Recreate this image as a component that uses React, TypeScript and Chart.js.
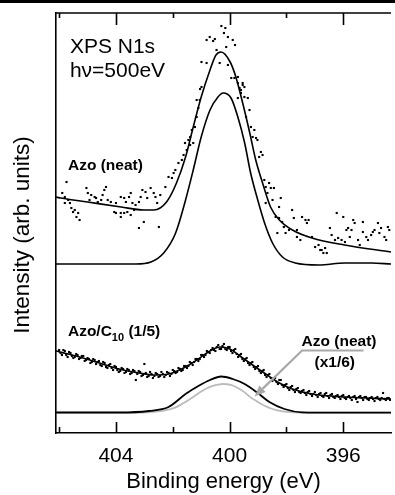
import React, { useEffect, useRef } from 'react';
import { Chart, registerables } from 'chart.js';

Chart.register(...registerables);

// ---- axes ----
const X_MIN = 394.32;
const X_MAX = 406.11;
const Y_MIN = 0;
const Y_MAX = 420;
const MAJOR_TICKS = [404, 400, 396];
const MINOR_TICKS = [406, 402, 398];

// ---- Azo (neat): measured points [binding energy, intensity] ----
const NEAT_DOTS: [number, number][] = [
  [405.89, 240], [405.8, 236], [405.74, 251], [405.68, 233], [405.8, 230], [405.62, 230], [405.57, 225],
  [405.51, 221], [405.45, 223], [405.39, 216], [405.33, 220], [405.28, 213], [405.04, 245], [404.99, 240],
  [404.93, 233], [404.87, 238], [404.75, 236], [404.7, 235], [404.64, 231], [404.52, 233], [404.47, 238],
  [404.41, 243], [404.35, 246], [404.29, 233], [404.18, 231], [404.06, 221], [404.0, 230], [404.0, 220],
  [403.83, 236], [403.83, 220], [403.83, 216], [403.71, 235], [403.71, 220], [403.65, 231], [403.6, 221],
  [403.54, 236], [403.48, 240], [403.48, 218], [403.42, 230], [403.36, 223], [403.31, 228], [403.19, 231],
  [403.19, 205], [403.13, 236], [403.07, 243], [403.02, 211], [402.96, 241], [402.9, 235], [402.78, 245],
  [402.67, 240], [402.61, 236], [402.55, 230], [402.49, 206], [402.44, 238], [402.26, 246], [402.15, 256],
  [402.03, 255], [401.97, 260], [401.91, 263], [401.8, 270], [401.68, 273], [401.62, 278], [401.57, 290],
  [401.51, 283], [401.45, 293], [401.39, 288], [401.39, 296], [401.33, 303], [401.28, 290], [401.22, 306],
  [401.16, 316], [401.1, 325], [401.05, 333],
  [400.29, 407], [400.15, 405], [400.2, 400], [400.7, 396], [400.81, 393], [400.58, 392], [400.52, 394],
  [400.06, 396], [399.89, 393], [400.12, 386], [399.81, 388], [400.46, 383], [400.99, 371], [400.81, 370],
  [400.35, 370], [400.06, 368], [399.94, 355], [399.71, 356], [400.99, 346], [401.04, 344], [399.54, 348],
  [399.6, 343], [399.48, 336], [399.36, 335], [401.16, 333], [399.3, 323],
  [399.83, 355], [399.71, 350], [399.65, 345], [399.54, 350], [399.48, 346], [399.6, 340], [399.71, 335],
  [399.42, 316], [399.25, 306], [399.13, 303], [399.07, 295], [399.02, 293], [399.19, 296], [398.96, 276],
  [398.84, 278], [398.9, 281], [398.78, 253], [398.73, 246], [398.61, 250], [398.55, 245], [398.44, 245],
  [398.67, 240], [398.49, 233], [398.73, 230], [398.26, 226], [398.2, 235], [398.38, 216], [398.26, 215],
  [398.15, 211], [398.09, 206], [398.32, 200], [398.03, 200], [397.91, 203], [397.8, 223], [397.74, 215],
  [397.63, 203], [397.63, 196], [397.51, 193], [397.45, 216], [397.33, 213], [397.28, 210], [397.22, 213],
  [397.1, 196], [396.99, 186], [396.87, 188], [396.81, 183], [396.76, 183], [396.64, 185], [396.7, 180],
  [396.58, 180], [396.47, 205], [396.41, 198], [396.29, 193], [396.23, 220], [396.18, 195], [396.06, 193],
  [396.0, 216], [395.94, 191], [395.89, 203], [395.83, 205], [395.77, 196], [395.71, 203], [395.65, 213],
  [395.6, 210], [395.48, 193], [395.42, 188], [395.31, 211], [395.31, 201], [395.19, 196], [395.13, 193],
  [395.02, 198], [394.96, 201], [394.9, 203], [394.78, 210], [394.73, 200], [394.67, 205], [394.55, 196],
  [394.49, 193], [394.43, 206], [394.38, 203],
];

// Azo (neat): fit envelope and fitted component
const NEAT_FIT: [number, number][] = [
  [406.11, 236], [405.94, 235], [405.0, 231], [403.82, 226], [403.02, 223], [402.67, 223], [402.22, 231],
  [401.87, 250], [401.55, 276], [401.28, 306], [401.0, 336], [400.69, 363], [400.48, 378], [400.3, 381],
  [399.98, 371], [399.78, 356], [399.54, 330], [399.29, 300], [399.08, 273], [398.84, 250], [398.56, 226],
  [398.25, 213], [397.79, 203], [397.1, 195], [395.95, 188], [394.32, 181],
];
const NEAT_COMP: [number, number][] = [
  [406.11, 169], [403.3, 169], [402.77, 171], [402.32, 180], [401.9, 200], [401.55, 233], [401.28, 263],
  [401.0, 296], [400.69, 323], [400.41, 336], [400.23, 340], [399.95, 335], [399.71, 316], [399.47, 290],
  [399.26, 260], [399.01, 233], [398.77, 210], [398.49, 190], [398.14, 176], [397.69, 170], [396.86, 168],
  [395.95, 170], [395.01, 170], [394.32, 169],
];

// ---- Azo/C10 (1/5) ----
const C10_DOTS: [number, number][] = [
  [406.0, 83], [405.9, 78], [405.8, 82], [405.7, 76], [405.6, 80], [405.5, 75], [405.4, 79], [405.3, 74],
  [405.2, 77], [405.1, 72], [405.0, 75], [404.9, 70], [404.8, 74], [404.7, 69], [404.6, 72], [404.5, 67],
  [404.4, 70], [404.3, 65], [404.2, 69], [404.1, 63], [404.0, 66], [403.9, 61], [403.8, 65], [403.7, 60],
  [403.6, 64], [403.5, 59], [403.4, 63], [403.3, 53], [403.2, 62], [403.1, 57], [403.0, 69], [402.9, 56],
  [402.8, 61], [402.7, 55], [402.6, 60], [402.5, 56], [402.4, 61], [402.3, 56], [402.2, 61], [402.1, 57],
  [402.0, 63], [401.9, 60], [401.8, 65], [401.7, 62], [401.6, 67], [401.5, 65], [401.4, 71], [401.3, 68],
  [401.2, 74], [401.1, 72], [401.0, 78], [400.9, 76], [400.8, 82], [400.7, 80], [400.6, 85], [400.5, 82],
  [400.4, 88], [400.3, 84], [400.2, 89], [400.1, 83], [400.0, 86], [399.9, 80], [399.8, 84], [399.7, 76],
  [399.6, 79], [399.5, 72], [399.4, 75], [399.3, 68], [399.2, 71], [399.1, 64], [399.0, 67], [398.9, 60],
  [398.8, 63], [398.7, 56], [398.6, 59], [398.5, 52], [398.4, 55], [398.3, 49], [398.2, 53], [398.1, 46],
  [398.0, 49], [397.9, 43], [397.8, 47], [397.7, 41], [397.6, 45], [397.5, 40], [397.4, 43], [397.3, 38],
  [397.2, 42], [397.1, 37], [397.0, 41], [396.9, 36], [396.8, 40], [396.7, 36], [396.6, 40], [396.5, 35],
  [396.4, 39], [396.3, 35], [396.2, 38], [396.1, 34], [396.0, 38], [395.9, 34], [395.8, 37], [395.7, 33],
  [395.6, 37], [395.5, 31], [395.4, 37], [395.3, 33], [395.2, 36], [395.1, 33], [395.0, 36], [394.9, 32],
  [394.8, 36], [394.7, 33], [394.6, 40], [394.5, 33], [394.4, 35],
  [405.95, 80], [405.85, 83], [405.75, 78], [405.65, 81], [405.55, 77], [405.45, 76], [405.35, 78],
  [405.25, 75], [405.15, 77], [405.05, 73], [404.95, 74], [404.85, 71], [404.75, 73], [404.65, 71],
  [404.55, 68], [404.45, 71], [404.35, 66], [404.25, 68], [404.15, 65], [404.05, 67], [403.95, 63],
  [403.85, 62], [403.75, 64], [403.65, 61], [403.55, 63], [403.45, 60], [403.35, 62], [403.25, 59],
  [403.15, 61], [403.05, 58], [402.95, 60], [402.85, 57], [402.75, 59], [402.65, 57], [402.55, 59],
  [402.45, 57], [402.35, 59], [402.25, 58], [402.15, 60], [402.05, 59], [401.95, 62], [401.85, 61],
  [401.75, 64], [401.65, 63], [401.55, 67], [401.45, 67], [401.35, 70], [401.25, 71], [401.15, 74],
  [401.05, 74], [400.95, 78], [400.85, 78], [400.75, 81], [400.65, 83], [400.55, 83], [400.45, 86],
  [400.35, 84], [400.25, 87], [400.15, 84], [400.05, 86], [399.95, 82], [399.85, 83], [399.75, 79],
  [399.65, 78], [399.55, 74], [399.45, 74], [399.35, 70], [399.25, 70], [399.15, 66], [399.05, 66],
  [398.95, 62], [398.85, 62], [398.75, 58], [398.65, 58], [398.55, 55], [398.45, 55], [398.35, 51],
  [398.25, 53], [398.15, 48], [398.05, 48], [397.95, 45], [397.85, 46], [397.75, 43], [397.65, 44],
  [397.55, 41], [397.45, 42], [397.35, 40], [397.25, 41], [397.15, 39], [397.05, 39], [396.95, 38],
  [396.85, 39], [396.75, 37], [396.65, 39], [396.55, 37], [396.45, 38], [396.35, 36], [396.25, 37],
  [396.15, 36], [396.05, 37], [395.95, 35], [395.85, 36], [395.75, 35], [395.65, 36], [395.55, 34],
  [395.45, 36], [395.35, 35], [395.25, 36], [395.15, 34], [395.05, 35], [394.95, 34], [394.85, 35],
  [394.75, 34], [394.65, 35], [394.55, 34], [394.45, 35], [394.35, 33],
];
const C10_FIT: [number, number][] = [
  [406.11, 82], [405.97, 81], [405.28, 76], [404.58, 70], [403.89, 64], [403.19, 60], [402.67, 58],
  [402.15, 59], [401.62, 65], [401.1, 74], [400.69, 82], [400.34, 86], [399.99, 84], [399.64, 77],
  [399.19, 68], [398.73, 59], [398.25, 50], [397.79, 44], [397.1, 39], [395.95, 36], [394.32, 34],
];
const C10_COMP: [number, number][] = [
  [406.11, 20.5], [403.88, 20.5], [402.84, 22], [402.15, 26], [401.55, 39], [401.1, 47], [400.69, 53],
  [400.3, 56.5], [399.89, 54], [399.47, 49], [399.01, 40], [398.6, 31], [398.07, 24], [397.45, 20.7],
  [396.23, 20.3], [394.32, 20.3],
];
// Azo (neat) component shown x1/6
const NEAT_SCALED: [number, number][] = [
  [406.11, 20.4], [403.3, 20.4], [402.77, 20.8], [402.32, 22.3], [401.9, 25.6], [401.55, 31.1],
  [401.28, 36.1], [401.0, 41.6], [400.69, 46.1], [400.41, 48.3], [400.23, 49], [399.95, 48.1],
  [399.71, 45], [399.47, 40.6], [399.26, 35.6], [399.01, 31.1], [398.77, 27.3], [398.49, 24],
  [398.14, 21.6], [397.69, 20.6], [396.86, 20.3], [394.32, 20.3],
];

const FONT = '"Liberation Sans", Arial, Helvetica, sans-serif';

const pts = (arr: [number, number][]) => arr.map(([x, y]) => ({ x, y }));

export default function App() {
  const ref = useRef<HTMLCanvasElement>(null);

  useEffect(() => {
    if (!ref.current) return;

    const decor = {
      id: 'decor',
      afterDraw(chart: any) {
        const { ctx, chartArea, scales } = chart;
        const { left, right, top, bottom } = chartArea;
        const xs = scales.x;
        const ys = scales.y;
        ctx.save();
        ctx.fillStyle = '#000';
        ctx.fillRect(0, 0, chart.width, 3);
        ctx.strokeStyle = '#000';
        ctx.lineWidth = 1.6;
        ctx.beginPath();
        ctx.moveTo(left, top);
        ctx.lineTo(right, top);
        ctx.stroke();
        const tick = (v: number, lenTop: number, lenBot: number) => {
          const px = Math.round(xs.getPixelForValue(v)) + 0.5;
          ctx.beginPath();
          ctx.moveTo(px, top);
          ctx.lineTo(px, top + lenTop);
          ctx.moveTo(px, bottom);
          ctx.lineTo(px, bottom - lenBot);
          ctx.stroke();
        };
        MAJOR_TICKS.forEach((v) => tick(v, 12, 11));
        MINOR_TICKS.forEach((v) => tick(v, 5, 6));

        ctx.save();
        ctx.translate(left - 33, ys.getPixelForValue(198));
        ctx.rotate(-Math.PI / 2);
        ctx.font = `22.5px ${FONT}`;
        ctx.fillStyle = '#000';
        ctx.textAlign = 'center';
        ctx.textBaseline = 'middle';
        ctx.fillText('Intensity (arb. units)', 0, 0);
        ctx.restore();

        ctx.fillStyle = '#000';
        ctx.textBaseline = 'alphabetic';
        ctx.textAlign = 'left';
        ctx.font = `21px ${FONT}`;
        ctx.fillText('XPS N1s', xs.getPixelForValue(405.62), ys.getPixelForValue(380));
        ctx.fillText('h\u03BD=500eV', xs.getPixelForValue(405.62), ys.getPixelForValue(356));

        ctx.font = `bold 15.5px ${FONT}`;
        ctx.fillText('Azo (neat)', xs.getPixelForValue(405.69), ys.getPixelForValue(263));

        let px = xs.getPixelForValue(405.69);
        const py = ys.getPixelForValue(97);
        ctx.fillText('Azo/C', px, py);
        px += ctx.measureText('Azo/C').width;
        ctx.font = `bold 11px ${FONT}`;
        ctx.fillText('10', px, py + 4.5);
        px += ctx.measureText('10').width;
        ctx.font = `bold 15.5px ${FONT}`;
        ctx.fillText(' (1/5)', px, py);

        ctx.textAlign = 'center';
        ctx.fillText('Azo (neat)', xs.getPixelForValue(396.15), ys.getPixelForValue(87));
        ctx.fillText('(x1/6)', xs.getPixelForValue(396.3), ys.getPixelForValue(66));

        const ax0 = xs.getPixelForValue(395.29), ay0 = ys.getPixelForValue(82.5);
        const ax1 = xs.getPixelForValue(397.45), ay1 = ys.getPixelForValue(82.5);
        const ax2 = xs.getPixelForValue(399.12), ay2 = ys.getPixelForValue(36.5);
        ctx.strokeStyle = '#a8a8a8';
        ctx.fillStyle = '#a8a8a8';
        ctx.lineWidth = 2.2;
        const ang = Math.atan2(ay2 - ay1, ax2 - ax1);
        const hl = 11, hw = 4.5;
        const bx = ax2 - Math.cos(ang) * hl, by = ay2 - Math.sin(ang) * hl;
        ctx.beginPath();
        ctx.moveTo(ax0, ay0);
        ctx.lineTo(ax1, ay1);
        ctx.lineTo(bx, by);
        ctx.stroke();
        ctx.beginPath();
        ctx.moveTo(ax2, ay2);
        ctx.lineTo(bx - Math.sin(ang) * hw, by + Math.cos(ang) * hw);
        ctx.lineTo(bx + Math.sin(ang) * hw, by - Math.cos(ang) * hw);
        ctx.closePath();
        ctx.fill();
        ctx.restore();
      },
    };

    const dots = (data: [number, number][]) => ({
      data: pts(data),
      showLine: false,
      pointStyle: 'rect' as const,
      pointRadius: 1.5,
      pointBorderWidth: 0,
      pointBackgroundColor: '#000',
      borderColor: '#000',
    });
    const curve = (data: [number, number][], color: string, width: number) => ({
      data: pts(data),
      showLine: true,
      pointRadius: 0,
      borderColor: color,
      borderWidth: width,
      cubicInterpolationMode: 'monotone' as const,
      fill: false,
    });

    const chart = new Chart(ref.current, {
      type: 'scatter',
      data: {
        datasets: [
          curve(NEAT_FIT, '#000', 1.6),
          curve(NEAT_COMP, '#000', 1.6),
          dots(NEAT_DOTS),
          curve(C10_FIT, '#000', 1.6),
          curve(C10_COMP, '#000', 1.8),
          curve(NEAT_SCALED, '#bbbbbb', 1.8),
          dots(C10_DOTS),
        ] as any,
      },
      options: {
        responsive: false,
        animation: false,
        devicePixelRatio: 1,
        layout: { padding: { top: 13, left: 0, right: 0, bottom: 0 } },
        plugins: { legend: { display: false }, tooltip: { enabled: false } },
        scales: {
          x: {
            type: 'linear',
            min: X_MIN,
            max: X_MAX,
            reverse: true,
            afterBuildTicks: (s: any) => {
              s.ticks = [...MAJOR_TICKS, ...MINOR_TICKS].sort((a, b) => a - b).map((v) => ({ value: v }));
            },
            afterFit: (s: any) => {
              s.height = 62;
            },
            ticks: {
              autoSkip: false,
              maxRotation: 0,
              padding: 11,
              color: '#000',
              font: { family: FONT, size: 21 },
              callback: (v: any) => (MAJOR_TICKS.includes(Number(v)) ? String(v) : ''),
            },
            grid: { display: false, drawTicks: false },
            border: { display: true, color: '#000', width: 1.6 },
            title: {
              display: true,
              text: 'Binding energy (eV)',
              color: '#000',
              font: { family: FONT, size: 22 },
              padding: { top: 0, bottom: 0 },
            },
          },
          y: {
            type: 'linear',
            min: Y_MIN,
            max: Y_MAX,
            ticks: { display: false },
            grid: { display: false, drawTicks: false },
            border: { display: true, color: '#000', width: 1.6 },
            afterFit: (s: any) => {
              s.width = 56;
            },
          },
        },
      } as any,
      plugins: [decor],
    });
    return () => chart.destroy();
  }, []);

  return (
    <div style={{ position: 'fixed', left: 0, top: 0, width: 395, height: 495, overflow: 'hidden', background: '#fff' }}>
      <canvas ref={ref} width={395} height={495} style={{ display: 'block' }} />
    </div>
  );
}
